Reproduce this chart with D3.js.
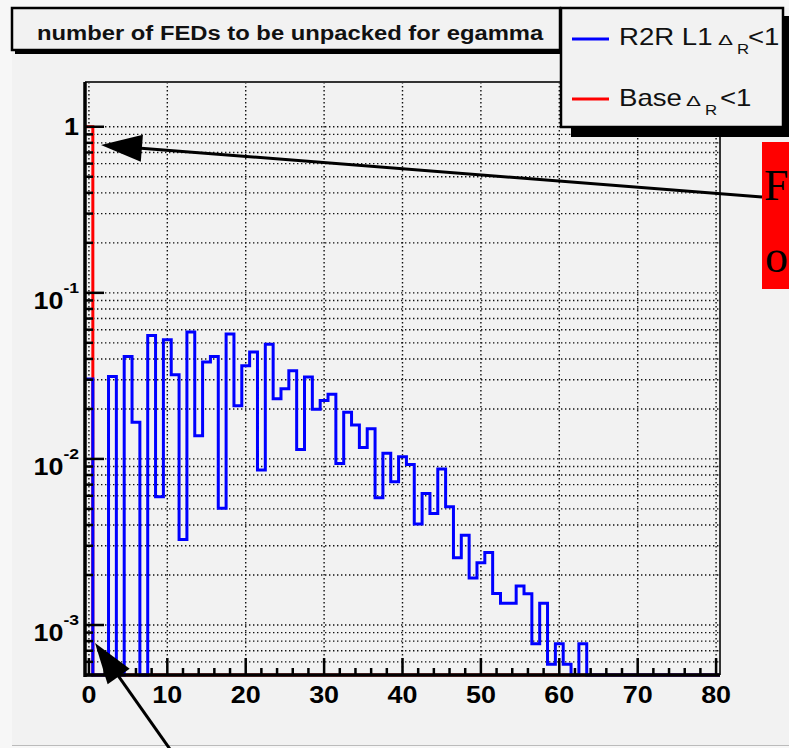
<!DOCTYPE html>
<html>
<head>
<meta charset="utf-8">
<script src="https://cdn.jsdelivr.net/npm/d3@7"></script>
<style>
  body { margin: 0; background: #fff; }
  text { font-family: "Liberation Sans", Arial, Helvetica, sans-serif; }
</style>
</head>
<body>
<div id="chart"></div>
<script>
// histogram bins (centres), one entry per bin
var binCenters = [0,1,2,3,4,5,6,7,8,9,10,11,12,13,14,15,16,17,18,19,
                  20,21,22,23,24,25,26,27,28,29,30,31,32,33,34,35,36,37,38,39,
                  40,41,42,43,44,45,46,47,48,49,50,51,52,53,54,55,56,57,58,59,
                  60,61,62,63,64,65,66,67,68,69,70,71,72,73,74,75,76,77,78,79,80];

// R2R L1 dR<1 (blue)
var r2rValues = [0.0303, 0, 0, 0.0313, 0, 0.0414, 0.0166, 0, 0.0554, 0.00591,
                 0.0522, 0.0321, 0.00327, 0.0581, 0.0138, 0.0383, 0.0414, 0.00504, 0.0565, 0.0209,
                 0.0364, 0.0440, 0.00857, 0.0491, 0.0230, 0.0265, 0.0340, 0.0114, 0.0311, 0.0199,
                 0.0225, 0.0245, 0.00940, 0.0191, 0.0160, 0.0117, 0.0152, 0.00583, 0.0108, 0.00728,
                 0.0103, 0.00927, 0.00405, 0.00620, 0.00470, 0.00869, 0.00515, 0.00254, 0.00347, 0.00192,
                 0.00237, 0.00273, 0.00155, 0.00135, 0.00135, 0.00172, 0.00154, 0.00077, 0.00135, 0.00058,
                 0.00077, 0.00058, 0, 0.00077, 0, 0, 0, 0, 0, 0,
                 0, 0, 0, 0, 0, 0, 0, 0, 0, 0, 0];

// Base dR<1 (red)
var baseValues = [1.0, 0, 0, 0, 0, 0, 0, 0, 0, 0,
                  0, 0, 0, 0, 0, 0, 0, 0, 0, 0,
                  0, 0, 0, 0, 0, 0, 0, 0, 0, 0,
                  0, 0, 0, 0, 0, 0, 0, 0, 0, 0,
                  0, 0, 0, 0, 0, 0, 0, 0, 0, 0,
                  0, 0, 0, 0, 0, 0, 0, 0, 0, 0,
                  0, 0, 0, 0, 0, 0, 0, 0, 0, 0,
                  0, 0, 0, 0, 0, 0, 0, 0, 0, 0, 0];

var xTicks = [0, 10, 20, 30, 40, 50, 60, 70, 80];
var yMajor = [1, 0.1, 0.01, 0.001];
var yExponents = ["", "-1", "-2", "-3"];
var titleText = "number of FEDs to be unpacked for egamma";

var width = 789, height = 748;
var frame = {left: 85, right: 720, top: 82, bottom: 675};
var stretch = 1.17;

var svg = d3.select("#chart").append("svg")
    .attr("width", width)
    .attr("height", height);

var x = d3.scaleLinear().domain([-0.5, 80.5]).range([frame.left, frame.right]);
var y = d3.scaleLog().domain([5e-4, 1.86]).range([frame.bottom, frame.top]);

// pad
svg.append("rect").attr("width", width).attr("height", height).attr("fill", "#f7f7f7");
svg.append("rect").attr("x", 12).attr("y", 8).attr("width", width - 12).attr("height", 737).attr("fill", "#f2f2f2");
svg.append("line").attr("x1", 12).attr("x2", width).attr("y1", 745.5).attr("y2", 745.5)
    .attr("stroke", "#bbb").attr("stroke-width", 1);

// grid
var grid = svg.append("g").attr("stroke", "#111").attr("stroke-width", 1.4).attr("stroke-dasharray", "1.4,2.6");
grid.selectAll(".gx").data(xTicks).enter().append("line")
    .attr("class", "gx")
    .attr("x1", d => x(d)).attr("x2", d => x(d))
    .attr("y1", frame.top).attr("y2", frame.bottom);
grid.selectAll(".gy").data(y.ticks()).enter().append("line")
    .attr("class", "gy")
    .attr("x1", frame.left).attr("x2", frame.right)
    .attr("y1", d => y(d)).attr("y2", d => y(d));

// histograms
svg.append("clipPath").attr("id", "frameclip")
  .append("rect")
    .attr("x", frame.left).attr("y", frame.top)
    .attr("width", frame.right - frame.left).attr("height", frame.bottom - frame.top + 2);

var ymin = y.domain()[0];
var step = d3.line()
    .x(d => x(d[0]))
    .y(d => y(Math.max(d[1], ymin)))
    .curve(d3.curveStepAfter);

function histPoints(vals) {
  var pts = binCenters.map((c, i) => [c - 0.5, vals[i]]);
  pts.push([binCenters[binCenters.length - 1] + 0.5, vals[vals.length - 1]]);
  return pts;
}

var hist = svg.append("g").attr("clip-path", "url(#frameclip)");
hist.append("path").attr("d", step(histPoints(baseValues)))
    .attr("fill", "none").attr("stroke", "#ff0000").attr("stroke-width", 3);
hist.append("path").attr("d", step(histPoints(r2rValues)))
    .attr("fill", "none").attr("stroke", "#0000ff").attr("stroke-width", 3);

// frame top / right
svg.append("path")
    .attr("d", "M" + frame.left + "," + frame.top + "H" + frame.right + "V" + frame.bottom)
    .attr("fill", "none").attr("stroke", "#333").attr("stroke-width", 2);

// x axis
var xax = svg.append("g").attr("stroke", "#000");
xax.append("line").attr("x1", frame.left - 1).attr("x2", frame.right)
    .attr("y1", frame.bottom).attr("y2", frame.bottom).attr("stroke-width", 3.5);
xax.selectAll(".xt").data(x.ticks(40).filter(d => d >= 0 && d <= 80)).enter().append("line")
    .attr("class", "xt")
    .attr("x1", d => x(d)).attr("x2", d => x(d))
    .attr("y1", frame.bottom)
    .attr("y2", d => frame.bottom - (d % 10 === 0 ? 17 : 7))
    .attr("stroke-width", 2.5);

// y axis
var yax = svg.append("g").attr("stroke", "#000");
yax.append("line").attr("x1", frame.left).attr("x2", frame.left)
    .attr("y1", frame.top).attr("y2", frame.bottom + 2).attr("stroke-width", 3.5);
yax.selectAll(".yt").data(y.ticks()).enter().append("line")
    .attr("class", "yt")
    .attr("y1", d => y(d)).attr("y2", d => y(d))
    .attr("x1", frame.left)
    .attr("x2", d => {
      var l = Math.log10(d);
      return frame.left + (Math.abs(l - Math.round(l)) < 1e-6 ? 19 : 8);
    })
    .attr("stroke-width", 2.5);

// x labels
svg.append("g").selectAll("g").data(xTicks).enter().append("g")
    .attr("transform", d => "translate(" + x(d) + ",703) scale(" + stretch + ",1)")
  .append("text")
    .attr("text-anchor", "middle")
    .attr("font-size", 23).attr("font-weight", "bold").attr("fill", "#000")
    .text(d => d);

// y labels
yMajor.forEach(function(v, i) {
  var g = svg.append("g")
      .attr("transform", "translate(79," + (y(v) + (yExponents[i] ? 16 : 8)) + ") scale(" + stretch + ",1)");
  var t = g.append("text")
      .attr("text-anchor", "end")
      .attr("font-size", 23).attr("font-weight", "bold").attr("fill", "#000");
  if (yExponents[i]) {
    t.append("tspan").text("10");
    t.append("tspan").attr("font-size", 15).attr("dy", -16).text(yExponents[i]);
  } else {
    t.text("1");
  }
});

// title box
svg.append("rect").attr("x", 15).attr("y", 12).attr("width", 548).attr("height", 42).attr("fill", "#000");
svg.append("rect").attr("x", 12).attr("y", 8).attr("width", 548).attr("height", 42)
    .attr("fill", "#f2f2f2").attr("stroke", "#000").attr("stroke-width", 2.5);
svg.append("g").attr("transform", "translate(37,40) scale(1.19,1)")
  .append("text")
    .attr("font-size", 20).attr("font-weight", "bold").attr("fill", "#111")
    .text(titleText);

// legend
svg.append("rect").attr("x", 571).attr("y", 16).attr("width", 240).attr("height", 121).attr("fill", "#000");
svg.append("rect").attr("x", 561).attr("y", 8).attr("width", 222).attr("height", 119)
    .attr("fill", "#f2f2f2").attr("stroke", "#000").attr("stroke-width", 2.5);

var legendItems = [
  {label: "R2R L1", color: "#0000ff", ly: 39, base: 45, dx: 718, rx: 737, lx: 748},
  {label: "Base",   color: "#ff0000", ly: 99, base: 106, dx: 686, rx: 705, lx: 720}
];

function stretchedText(parent, tx, ty, sx, size, str) {
  return parent.append("g")
      .attr("transform", "translate(" + tx + "," + ty + ") scale(" + sx + ",1)")
    .append("text")
      .attr("font-size", size).attr("fill", "#111")
      .text(str);
}

legendItems.forEach(function(d) {
  svg.append("line").attr("x1", 572).attr("x2", 609).attr("y1", d.ly).attr("y2", d.ly)
      .attr("stroke", d.color).attr("stroke-width", 3);
  stretchedText(svg, 619, d.base, 1.2, 23, d.label);
  stretchedText(svg, d.dx, d.base, 1.5, 15, "\u0394");
  stretchedText(svg, d.rx, d.base + 9, 1.2, 14, "R");
  stretchedText(svg, d.lx, d.base, 1.2, 23, "<1");
});

// annotation (red box with arrows)
svg.append("rect").attr("x", 762).attr("y", 142).attr("width", 40).attr("height", 147).attr("fill", "#ff0000");
svg.append("text").attr("x", 764).attr("y", 200)
    .style("font-family", "'Liberation Serif', 'DejaVu Serif', serif").attr("font-size", 44).attr("fill", "#000")
    .text("F");
svg.append("text").attr("x", 765).attr("y", 272)
    .style("font-family", "'Liberation Serif', 'DejaVu Serif', serif").attr("font-size", 46).attr("fill", "#000")
    .text("o");

function arrow(x1, y1, x2, y2) {
  var dx = x2 - x1, dy = y2 - y1, len = Math.sqrt(dx * dx + dy * dy);
  var ux = dx / len, uy = dy / len;
  var hl = 41, hw = 13.5;
  var bx = x2 - ux * hl, by = y2 - uy * hl;
  svg.append("line").attr("x1", x1).attr("y1", y1).attr("x2", bx + ux * 4).attr("y2", by + uy * 4)
      .attr("stroke", "#000").attr("stroke-width", 3);
  svg.append("path")
      .attr("d", "M" + x2 + "," + y2 +
                 "L" + (bx - uy * hw) + "," + (by + ux * hw) +
                 "L" + (bx + uy * hw) + "," + (by - ux * hw) + "Z")
      .attr("fill", "#000");
}

arrow(762, 197, 101, 145);
arrow(172, 752, 95, 643);
</script>
</body>
</html>
